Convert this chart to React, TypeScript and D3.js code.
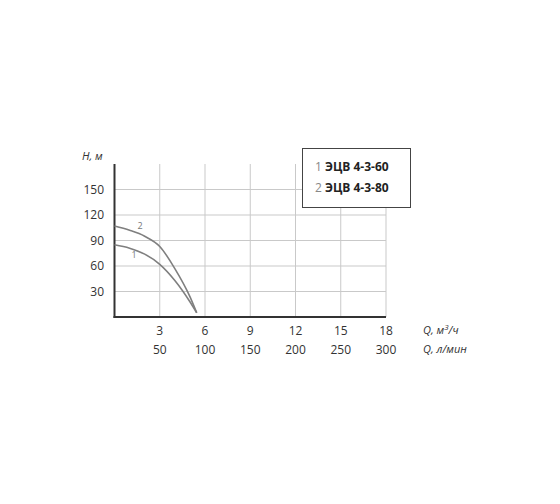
import React, { useEffect, useRef } from 'react';
import * as d3 from 'd3';

type Pt = [number, number];

// Q, m3/h -> H, m
const curve1: Pt[] = [[0, 85], [1, 81], [2, 74], [3, 62], [4, 43], [5, 18], [5.45, 5]];
const curve2: Pt[] = [[0, 107], [1, 102], [2, 95], [3, 83], [4, 57], [5, 24], [5.45, 5]];
const qTicks = [3, 6, 9, 12, 15, 18];
const lpmTicks = ['50', '100', '150', '200', '250', '300'];
const hTicks = [30, 60, 90, 120, 150];
const legendItems = [
  { num: '1', name: 'ЭЦВ 4-3-60' },
  { num: '2', name: 'ЭЦВ 4-3-80' },
];

const W = 560;
const H = 504;
const FONT = '"Open Sans", "DejaVu Sans", sans-serif';

const App: React.FC = () => {
  const svgRef = useRef<SVGSVGElement>(null);

  useEffect(() => {
    if (!svgRef.current) return;
    const svg = d3.select(svgRef.current);
    svg.selectAll('*').remove();

    const x = d3.scaleLinear().domain([0, 18]).range([114.5, 386]);
    const y = d3.scaleLinear().domain([0, 180]).range([317, 164]);
    const g = svg.append('g').attr('font-family', FONT);

    // grid
    hTicks.forEach(t => {
      g.append('line')
        .attr('x1', x(0)).attr('x2', x(18))
        .attr('y1', y(t)).attr('y2', y(t))
        .attr('stroke', '#c9c9c9').attr('stroke-width', 1);
    });
    qTicks.forEach(t => {
      g.append('line')
        .attr('x1', x(t)).attr('x2', x(t))
        .attr('y1', y(0)).attr('y2', y(180))
        .attr('stroke', '#c9c9c9').attr('stroke-width', 1);
    });

    // axes
    g.append('line').attr('x1', x(0)).attr('x2', x(0)).attr('y1', y(0) + 1).attr('y2', y(180))
      .attr('stroke', '#333').attr('stroke-width', 2);
    g.append('line').attr('x1', x(0) - 1).attr('x2', x(18)).attr('y1', y(0)).attr('y2', y(0))
      .attr('stroke', '#333').attr('stroke-width', 2);

    // tick labels
    hTicks.forEach(t => {
      g.append('text').attr('x', 104).attr('y', y(t) + 4)
        .attr('text-anchor', 'end').attr('font-size', 12).attr('fill', '#333').text(t);
    });
    qTicks.forEach((t, i) => {
      g.append('text').attr('x', x(t)).attr('y', 335)
        .attr('text-anchor', 'middle').attr('font-size', 12).attr('fill', '#333').text(t);
      g.append('text').attr('x', x(t)).attr('y', 354)
        .attr('text-anchor', 'middle').attr('font-size', 12).attr('fill', '#333').text(lpmTicks[i]);
    });

    // axis titles
    g.append('text').attr('x', 82).attr('y', 160).attr('font-size', 11).attr('font-style', 'italic')
      .attr('fill', '#333').text('H, м');
    const q1 = g.append('text').attr('x', 423).attr('y', 334).attr('font-size', 11)
      .attr('font-style', 'italic').attr('fill', '#333');
    q1.append('tspan').text('Q, м');
    q1.append('tspan').attr('dy', -4).attr('font-size', 8).text('3');
    q1.append('tspan').attr('dy', 4).text('/ч');
    g.append('text').attr('x', 423).attr('y', 353).attr('font-size', 11).attr('font-style', 'italic')
      .attr('fill', '#333').text('Q, л/мин');

    // curves
    const line = d3.line<Pt>().x(d => x(d[0])).y(d => y(d[1])).curve(d3.curveMonotoneX);
    [curve1, curve2].forEach(c => {
      g.append('path').attr('d', line(c)).attr('fill', 'none')
        .attr('stroke', '#7f7f7f').attr('stroke-width', 1.6);
    });
    g.append('text').attr('x', x(1.3)).attr('y', y(69)).attr('font-size', 9)
      .attr('text-anchor', 'middle').attr('fill', '#777').text('1');
    g.append('text').attr('x', x(1.7)).attr('y', y(104)).attr('font-size', 9)
      .attr('text-anchor', 'middle').attr('fill', '#777').text('2');

    // legend
    g.append('rect').attr('x', 302.5).attr('y', 148.5).attr('width', 108).attr('height', 59)
      .attr('fill', '#fff').attr('stroke', '#444').attr('stroke-width', 1);
    legendItems.forEach((it, i) => {
      const t = g.append('text').attr('x', 315).attr('y', 171 + i * 21).attr('font-size', 12);
      t.append('tspan').attr('fill', '#888').text(it.num + ' ');
      t.append('tspan').attr('fill', '#222').attr('font-weight', 'bold').text(it.name);
    });
  }, []);

  return (
    <div style={{ position: 'absolute', left: 0, top: 0, width: W, height: H, background: '#fff' }}>
      <svg ref={svgRef} width={W} height={H} style={{ display: 'block' }} />
    </div>
  );
};

export default App;
